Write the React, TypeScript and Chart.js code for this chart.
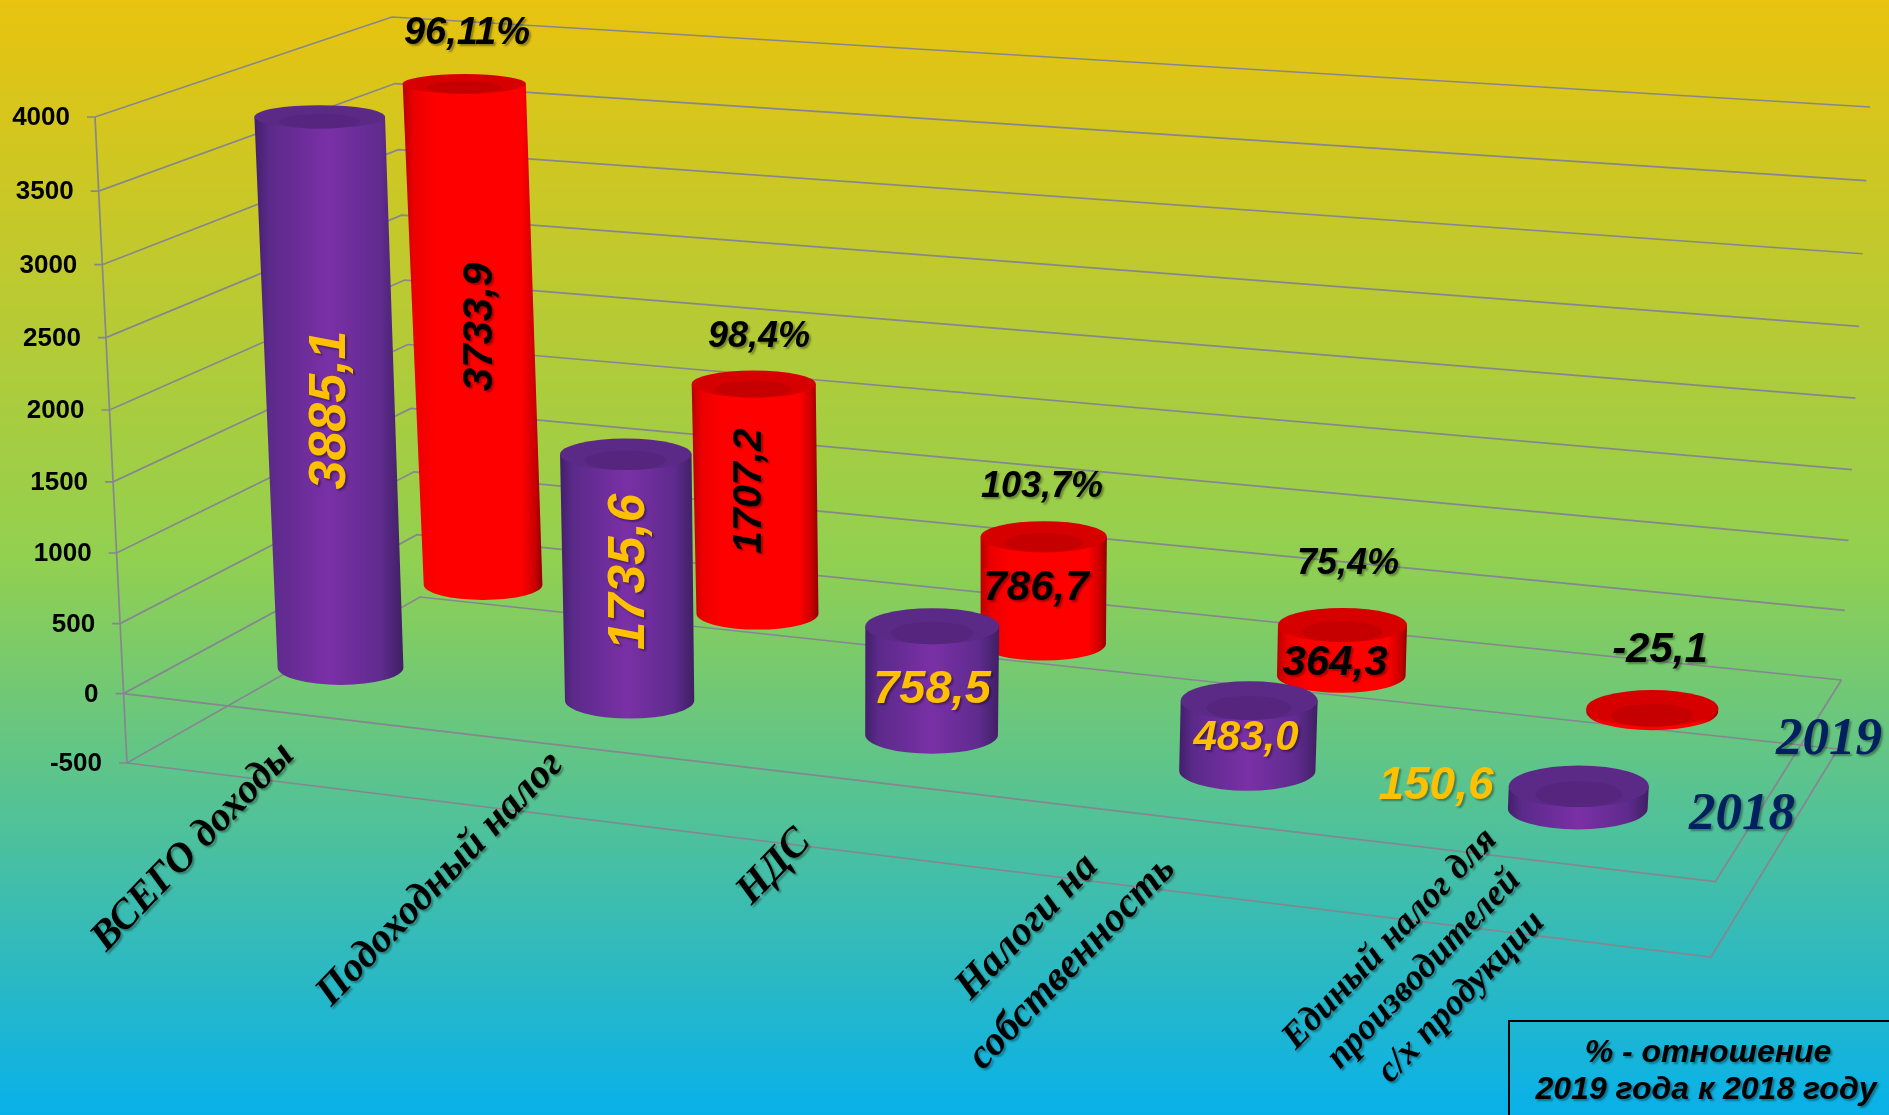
import React, { useEffect, useRef } from "react";
import { Chart, registerables, BarController } from "chart.js";

Chart.register(...registerables);

const categories = [
  ["ВСЕГО доходы"],
  ["Подоходный налог"],
  ["НДС"],
  ["Налоги на", "собственность"],
  ["Единый налог для", "производителей", "с/х продукции"],
];
const series2018 = [3885.1, 1735.6, 758.5, 483.0, 150.6];
const series2019 = [3733.9, 1707.2, 786.7, 364.3, -25.1];
const labels2018 = ["3885,1", "1735,6", "758,5", "483,0", "150,6"];
const labels2019 = ["3733,9", "1707,2", "786,7", "364,3"];
const ratioLabels = ["96,11%", "98,4%", "103,7%", "75,4%", "-25,1"];
const yearNames = ["2018", "2019"];
const noteLines = ["% - отношение", "2019 года к 2018 году"];

const W = 1889;
const H = 1115;
const SANS = '"Liberation Sans", Arial, sans-serif';
const SERIF = '"Liberation Serif", "Times New Roman", serif';

type Pt = { x: number; y: number };
// Box corners at the lowest and highest axis value (front/back, left/right)
const FL = { lo: { x: 127, y: 763 }, hi: { x: 95, y: 117 } };
const FR = { lo: { x: 1711, y: 957 }, hi: { x: 1752, y: 255 } };
const BL = { lo: { x: 420, y: 597 }, hi: { x: 392, y: 17 } };
const BR = { lo: { x: 1838, y: 749 }, hi: { x: 1870, y: 107 } };
const rowDepth = [0.24, 0.75];
const depthRadius = 0.1;

function floorPoint(u: number, v: number): Pt {
  const p0 = FL.lo, p1 = FR.lo, p2 = BR.lo, p3 = BL.lo;
  const dx1 = p1.x - p2.x, dx2 = p3.x - p2.x, sx = p0.x - p1.x + p2.x - p3.x;
  const dy1 = p1.y - p2.y, dy2 = p3.y - p2.y, sy = p0.y - p1.y + p2.y - p3.y;
  const den = dx1 * dy2 - dx2 * dy1;
  const g = (sx * dy2 - dx2 * sy) / den;
  const k = (dx1 * sy - sx * dy1) / den;
  const a = p1.x - p0.x + g * p1.x, b = p3.x - p0.x + k * p3.x;
  const d = p1.y - p0.y + g * p1.y, e = p3.y - p0.y + k * p3.y;
  const w = g * u + k * v + 1;
  return { x: (a * u + b * v + p0.x) / w, y: (d * u + e * v + p0.y) / w };
}

function project(u: number, v: number, hIn: number): Pt {
  const h = hIn * (1 - 0.037 * (1 - hIn));
  const base = floorPoint(u, v);
  const rise = (key: "x" | "y") => {
    const f = (FL.hi[key] - FL.lo[key]) * (1 - u) + (FR.hi[key] - FR.lo[key]) * u;
    const b = (BL.hi[key] - BL.lo[key]) * (1 - u) + (BR.hi[key] - BR.lo[key]) * u;
    return f * (1 - v) + b * v;
  };
  return { x: base.x + rise("x") * h, y: base.y + rise("y") * h };
}

const palettes = [
  {
    side: [[0, "#431f6b"], [0.1, "#5b2a8a"], [0.5, "#7a30a6"], [0.85, "#5f2b8e"], [1, "#3f1f63"]],
    rim: "#5a2a86",
    cap: "#56267e",
  },
  {
    side: [[0, "#b80000"], [0.08, "#ec0000"], [0.25, "#ff0000"], [0.85, "#ff0000"], [0.95, "#c80000"], [1, "#8e0000"]],
    rim: "#d60000",
    cap: "#c60000",
  },
];

class CylinderController extends BarController {
  static id = "cylinder";
  draw() {
    const chart: any = (this as any).chart;
    const meta: any = (this as any)._cachedMeta;
    const ctx = chart.ctx;
    const area = chart.chartArea;
    const row = (this as any).index;
    const pal = palettes[row];
    const depth = rowDepth[row];
    for (const el of meta.data) {
      const u = (el.x - area.left) / area.width;
      const level = (py: number) => (area.bottom - py) / area.height;
      const topPx = Math.min(el.y, el.base);
      const botPx = Math.max(el.y, el.base);
      const ht = level(topPx);
      const hb = level(botPx);
      const ends = (h: number) => {
        const c = project(u, depth, h);
        const f = project(u, depth - depthRadius, h);
        const b = project(u, depth + depthRadius, h);
        const rx = (el.width / 2) * (0.92 + 0.13 * u) * (1 + 0.045 * h);
        return { cx: c.x, cy: c.y, rx, ry: (f.y - b.y) / 2 };
      };
      const t = ends(ht);
      const b = ends(hb);
      const grad = ctx.createLinearGradient(Math.min(t.cx - t.rx, b.cx - b.rx), 0, Math.max(t.cx + t.rx, b.cx + b.rx), 0);
      for (const [s, c] of pal.side) grad.addColorStop(s as number, c as string);
      ctx.save();
      ctx.fillStyle = grad;
      ctx.beginPath();
      ctx.moveTo(t.cx - t.rx, t.cy);
      ctx.lineTo(b.cx - b.rx, b.cy);
      ctx.ellipse(b.cx, b.cy, b.rx, b.ry, 0, Math.PI, 0, true);
      ctx.lineTo(t.cx + t.rx, t.cy);
      ctx.closePath();
      ctx.fill();
      ctx.fillStyle = pal.rim;
      ctx.beginPath();
      ctx.ellipse(t.cx, t.cy, t.rx, t.ry, 0, 0, Math.PI * 2);
      ctx.fill();
      ctx.fillStyle = pal.cap;
      ctx.beginPath();
      ctx.ellipse(t.cx, t.cy + t.ry * 0.38, t.rx * 0.62, t.ry * 0.62, 0, 0, Math.PI * 2);
      ctx.fill();
      ctx.restore();
    }
  }
}
Chart.register(CylinderController as any);

const boxPlugin = {
  id: "box3d",
  beforeDraw(chart: any) {
    const ctx = chart.ctx;
    const g = ctx.createLinearGradient(0, 0, 0, H);
    g.addColorStop(0, "#e8c30f");
    g.addColorStop(0.5, "#92d050");
    g.addColorStop(1, "#08b1ea");
    ctx.save();
    ctx.fillStyle = g;
    ctx.fillRect(0, 0, W, H);
    ctx.restore();
  },
  beforeDatasetsDraw(chart: any) {
    const ctx = chart.ctx;
    const area = chart.chartArea;
    const y = chart.scales.y;
    const level = (v: number) => (area.bottom - y.getPixelForValue(v)) / area.height;
    ctx.save();
    ctx.strokeStyle = "#868690";
    ctx.lineWidth = 1.7;
    const line = (pts: Pt[]) => {
      ctx.beginPath();
      pts.forEach((p, i) => (i ? ctx.lineTo(p.x, p.y) : ctx.moveTo(p.x, p.y)));
      ctx.stroke();
    };
    for (const tick of y.ticks) {
      const h = level(tick.value);
      const fl = project(0, 0, h);
      const bl = project(0, 1, h);
      const br = project(1, 1, h);
      line([{ x: fl.x - 8, y: fl.y }, fl, bl, br]);
      if (tick.value <= 0) {
        const fr = project(1, 0, h);
        line([fl, fr, br]);
      }
    }
    const ax: Pt[] = y.ticks.map((t: any) => project(0, 0, level(t.value)));
    line(ax);
    ctx.restore();

    ctx.save();
    ctx.fillStyle = "#000";
    ctx.textAlign = "right";
    ctx.textBaseline = "middle";
    ctx.font = `bold 26px ${SANS}`;
    for (const tick of y.ticks) {
      const fl = project(0, 0, level(tick.value));
      ctx.fillText(String(tick.value), fl.x - 25, fl.y + 1);
    }
    ctx.restore();
  },
  afterDatasetsDraw(chart: any) {
    const ctx = chart.ctx;
    const put = (text: string, x: number, y: number, font: string, color: string, rot = 0) => {
      ctx.save();
      ctx.translate(x, y);
      ctx.rotate((rot * Math.PI) / 180);
      ctx.font = font;
      ctx.fillStyle = color;
      ctx.textAlign = "center";
      ctx.textBaseline = "middle";
      ctx.shadowColor = "rgba(0,0,0,0.35)";
      ctx.shadowBlur = 2;
      ctx.shadowOffsetX = 2;
      ctx.shadowOffsetY = 2;
      ctx.fillText(text, 0, 3);
      ctx.restore();
    };
    const bi = (s: number, fam = SANS) => `italic bold ${s}px ${fam}`;
    const YEL = "#ffc000";

    // values of the front row
    put(labels2018[0], 328, 410, bi(52), YEL, -90);
    put(labels2018[1], 627, 572, bi(51), YEL, -90);
    put(labels2018[2], 932, 687, bi(47), YEL);
    put(labels2018[3], 1246, 735, bi(42), YEL);
    put(labels2018[4], 1436, 783, bi(46), YEL);
    // values of the back row
    put(labels2019[0], 477, 327, bi(42), "#000", -90);
    put(labels2019[1], 747, 491, bi(41), "#000", -90);
    put(labels2019[2], 1036, 585, bi(42), "#000");
    put(labels2019[3], 1335, 660, bi(42), "#000");
    // ratios
    put(ratioLabels[0], 467, 31, bi(38), "#000");
    put(ratioLabels[1], 759, 334, bi(36), "#000");
    put(ratioLabels[2], 1042, 484, bi(36), "#000");
    put(ratioLabels[3], 1348, 561, bi(36), "#000");
    put(ratioLabels[4], 1660, 647, bi(42), "#000");
    // categories
    put(categories[0][0], 191, 845, bi(41, SERIF), "#000", -46);
    put(categories[1][0], 438, 877, bi(41, SERIF), "#000", -46);
    put(categories[2][0], 772, 865, bi(41, SERIF), "#000", -46);
    put(categories[3][0], 1025, 925, bi(41, SERIF), "#000", -46);
    put(categories[3][1], 1070, 961, bi(41, SERIF), "#000", -46);
    put(categories[4][0], 1388, 937, bi(36.5, SERIF), "#000", -46);
    put(categories[4][1], 1422, 967, bi(36.5, SERIF), "#000", -46);
    put(categories[4][2], 1459, 995, bi(36.5, SERIF), "#000", -46);
    // series names
    put(yearNames[1], 1829, 737, bi(53, SERIF), "#002060");
    put(yearNames[0], 1742, 812, bi(53, SERIF), "#002060");
    // note box
    ctx.save();
    ctx.strokeStyle = "#000";
    ctx.lineWidth = 2;
    ctx.strokeRect(1509, 1021, 400, 120);
    ctx.restore();
    put(noteLines[0], 1708, 1050, bi(32), "#000");
    put(noteLines[1], 1706, 1087, bi(32), "#000");
  },
};

export default function App() {
  const ref = useRef<HTMLCanvasElement>(null);
  useEffect(() => {
    document.body.style.margin = "0";
    const chart = new Chart(ref.current as HTMLCanvasElement, {
      type: "cylinder" as any,
      data: {
        labels: categories.map((c) => c.join(" ")),
        datasets: [
          { label: yearNames[0], data: series2018, grouped: false, clip: false, categoryPercentage: 0.355, barPercentage: 1 } as any,
          { label: yearNames[1], data: series2019, grouped: false, clip: false, categoryPercentage: 0.335, barPercentage: 1 } as any,
        ],
      },
      options: {
        animation: false,
        responsive: false,
        layout: { padding: 0 },
        scales: {
          x: { type: "category", offset: true, display: false },
          y: { type: "linear", min: -500, max: 4000, ticks: { stepSize: 500 }, display: false },
        },
        plugins: { legend: { display: false }, tooltip: { enabled: false } },
      } as any,
      plugins: [boxPlugin],
    });
    return () => chart.destroy();
  }, []);
  return <canvas ref={ref} width={W} height={H} style={{ display: "block", width: W, height: H }} />;
}
